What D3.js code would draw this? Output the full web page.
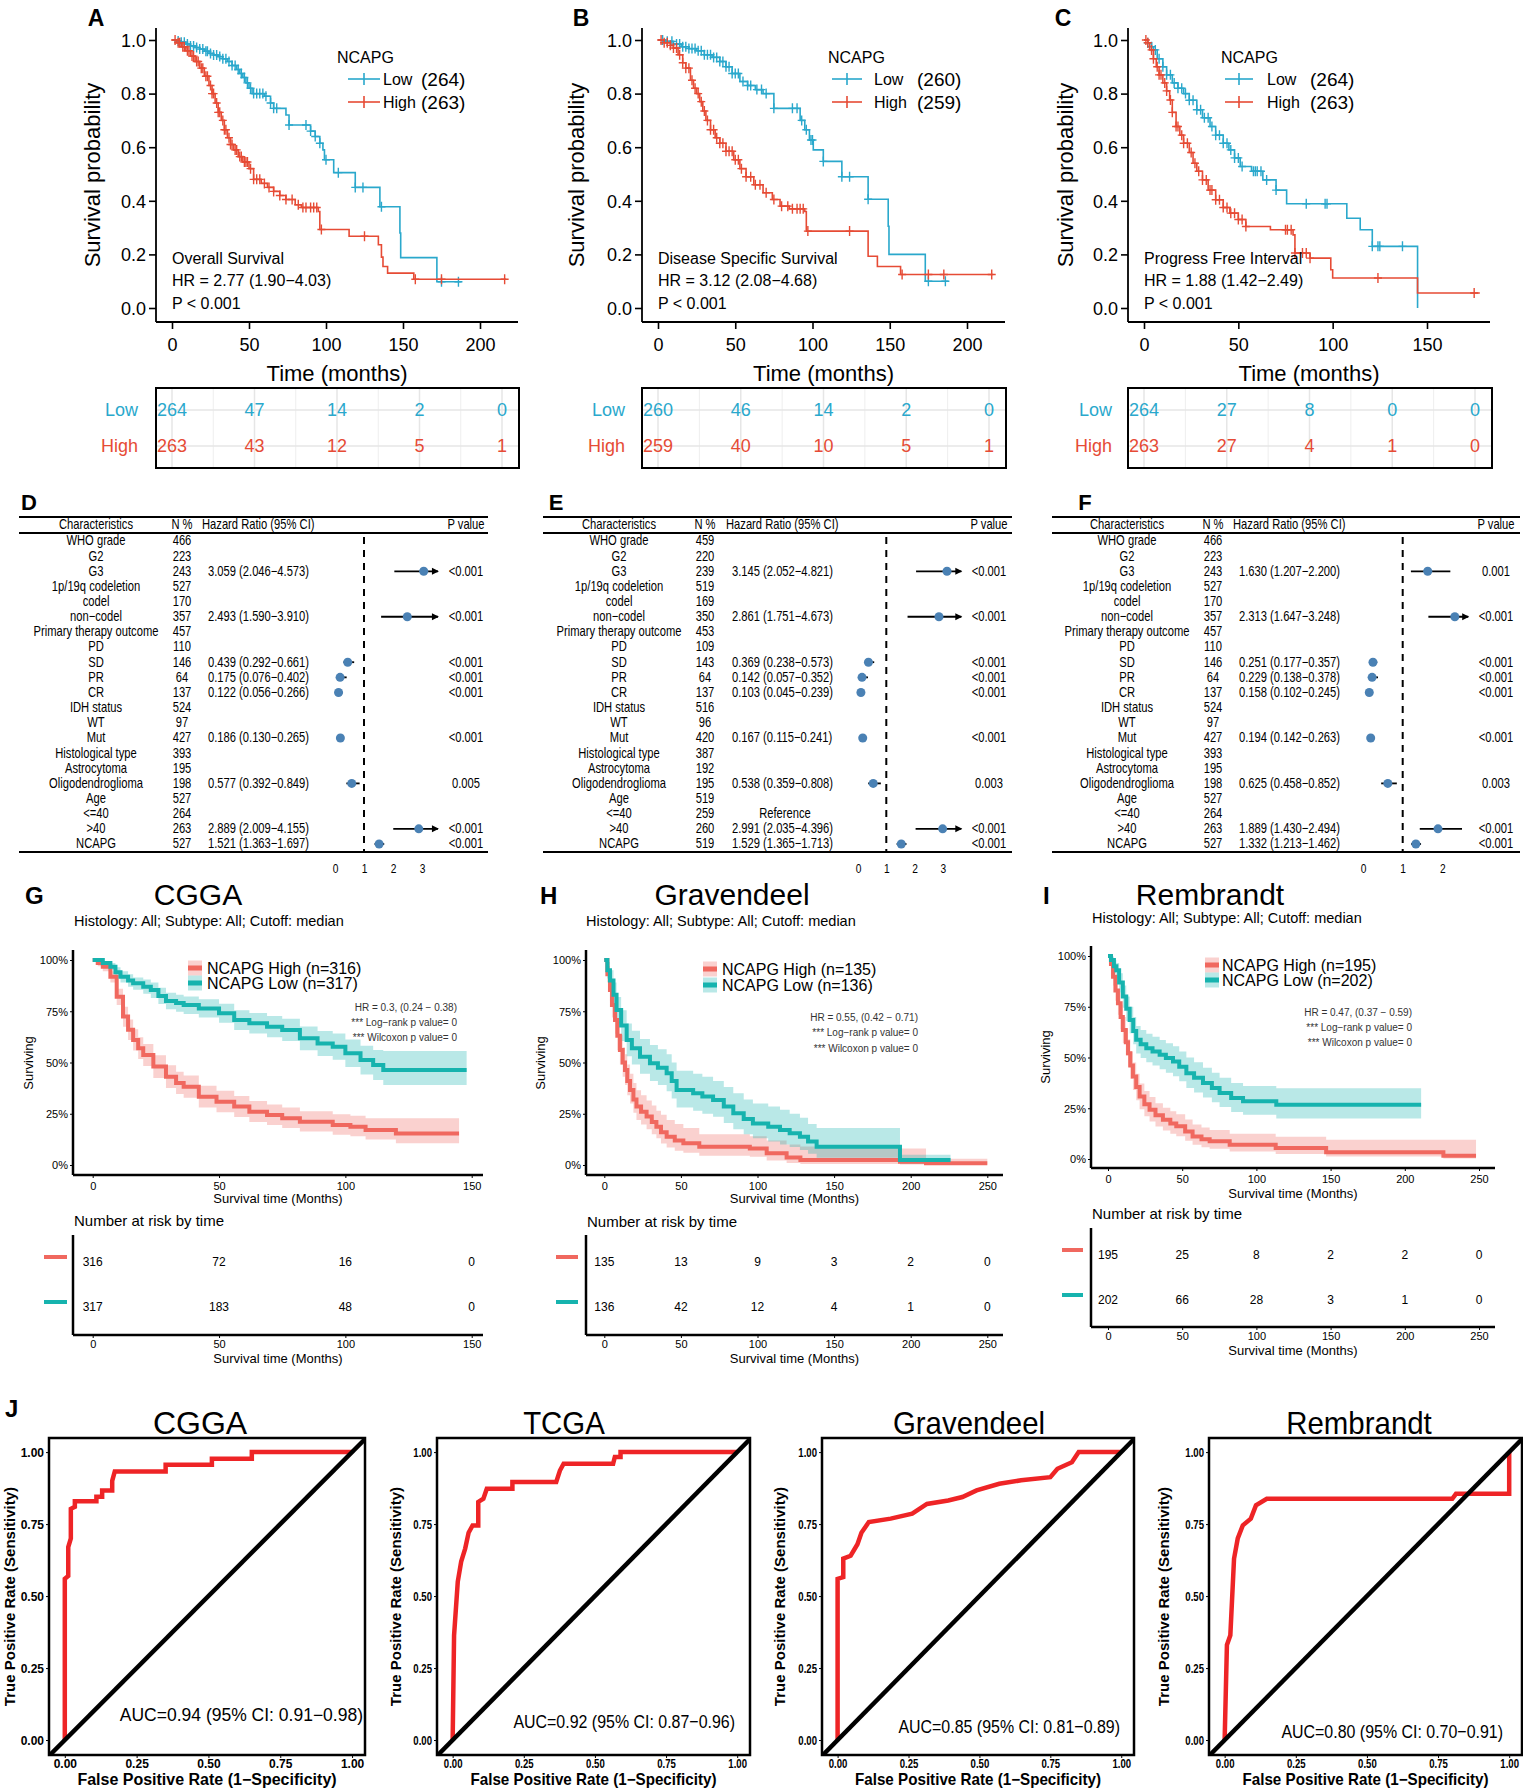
<!DOCTYPE html>
<html lang="en">
<head>
<meta charset="UTF-8">
<title>NCAPG survival</title>
<script src="https://cdn.jsdelivr.net/npm/d3@7"></script>
<style>
  body { margin: 0; background: #fff; overflow: hidden; }
  svg text { font-family: "Liberation Sans", Arial, Helvetica, sans-serif; }
</style>
</head>
<body>
<script>
// ---------- data : TCGA KM (A, B, C) ----------
const osLow = [[0,1],[3,0.996],[6,0.992],[9,0.985],[12,0.978],[15,0.972],[18,0.966],[21,0.958],[24,0.95],[27,0.944],[30,0.938],[33,0.93],[36,0.92],[39,0.905],[42,0.89],[44,0.875],[46,0.86],[48,0.84],[50,0.82],[52,0.8],[60,0.79],[64,0.765],[66,0.745],[74,0.72],[76,0.683],[90,0.66],[93,0.64],[96,0.615],[98,0.59],[99,0.553],[105,0.505],[119,0.45],[135,0.378],[148,0.28],[148.5,0.188],[172,0.098],[188,0.098]];
const osHigh = [[0,1],[3,0.99],[6,0.975],[9,0.96],[12,0.94],[15,0.92],[18,0.895],[21,0.865],[24,0.83],[26,0.8],[28,0.765],[30,0.73],[32,0.7],[34,0.665],[36,0.635],[38,0.61],[40,0.59],[43,0.565],[46,0.545],[50,0.52],[53,0.48],[58,0.465],[62,0.45],[66,0.435],[70,0.42],[74,0.405],[80,0.385],[84,0.375],[95,0.36],[96,0.293],[115,0.268],[134,0.236],[136,0.19],[137,0.155],[140,0.13],[157,0.107],[217,0.107]];
const osLowCens = [4,6,8,10,12,14,16,18,20,22,23,25,27,29,31,33,35,37,39,41,43,45,47,49,51,53,55,57,59,61,64,66,68,76,87,90,93,96,100,108,119,124,136,175,186];
const osHighCens = [2,4,5,7,8,10,11,13,14,16,17,19,20,22,23,25,26,27,29,30,31,33,34,35,37,38,39,41,42,44,45,47,48,49,51,53,55,57,60,63,66,70,74,78,82,85,87,90,92,94,97,125,158,175,216];

const dssLow = [[0,1],[5,0.995],[10,0.985],[15,0.975],[20,0.968],[25,0.96],[30,0.945],[35,0.935],[40,0.92],[44,0.9],[48,0.875],[53,0.845],[58,0.83],[63,0.815],[68,0.8],[75,0.745],[92,0.7],[95,0.665],[98,0.627],[100.5,0.59],[107,0.547],[119,0.49],[136,0.406],[149,0.305],[149.5,0.2],[173,0.1],[188,0.1]];
const dssHigh = [[0,1],[4,0.99],[8,0.98],[10,0.97],[13,0.945],[16,0.915],[18,0.895],[21,0.85],[23,0.82],[25,0.8],[27,0.77],[29,0.735],[31,0.7],[34,0.665],[37,0.635],[40,0.615],[44,0.585],[49,0.553],[53,0.52],[57,0.49],[62,0.46],[68,0.43],[74,0.405],[79,0.38],[85,0.37],[95,0.36],[96,0.287],[136,0.193],[142,0.155],[157,0.125],[217,0.125]];
const dssLowCens = [3,6,9,12,14,16,18,20,22,24,26,28,30,32,34,36,38,40,42,44,46,48,50,52,55,58,60,64,67,70,75,87,90,93,96,99,100,107,119,124,136,175,186];
const dssHighCens = [2,4,6,8,10,12,14,16,18,20,22,24,26,28,30,32,34,36,38,40,42,44,46,48,50,52,54,57,60,63,66,70,75,80,84,87,90,92,94,97,124,158,175,185,216];

const pfiLow = [[0,1],[2,0.99],[4,0.975],[5,0.963],[7,0.93],[10,0.9],[12,0.87],[15,0.84],[18,0.82],[21,0.8],[24,0.775],[28,0.74],[31,0.71],[35,0.677],[38,0.645],[42,0.615],[45,0.59],[48,0.56],[51,0.528],[57,0.51],[63,0.478],[70,0.44],[75.6,0.389],[107.5,0.335],[114.6,0.292],[121,0.23],[145,0]];
const pfiHigh = [[0,1],[2,0.99],[3,0.963],[5,0.93],[6.5,0.9],[8,0.87],[10,0.84],[12,0.81],[13.6,0.776],[15,0.73],[17,0.677],[19,0.645],[21,0.615],[24,0.58],[26,0.54],[28,0.51],[31,0.478],[34,0.44],[38,0.404],[42,0.375],[45.5,0.354],[50,0.33],[54,0.304],[67,0.292],[79,0.273],[80,0.205],[88,0.186],[99,0.143],[100,0.112],[145,0.056],[178,0.056]];
const pfiLowCens = [2,4,6,8,10,12,14,16,18,20,22,24,26,28,30,32,34,36,38,40,42,44,46,48,50,52,58,59,60,62,65,70,86,96,97,121,124,125,137];
const pfiHighCens = [1,2,4,5,7,8,9,11,12,14,15,17,18,20,21,23,25,27,29,31,33,35,36,38,40,42,44,46,48,50,52,54,75,76,78,80,84,86,88,124,175];

const osRiskLow = [264,47,14,2,0], osRiskHigh = [263,43,12,5,1];
const dssRiskLow = [260,46,14,2,0], dssRiskHigh = [259,40,10,5,1];
const pfiRiskLow = [264,27,8,0,0], pfiRiskHigh = [263,27,4,1,0];

// ---------- data : forest plots (D, E, F) ----------
const forestLabels = ["WHO grade","G2","G3","1p/19q codeletion","codel","non\u2212codel","Primary therapy outcome","PD","SD","PR","CR","IDH status","WT","Mut","Histological type","Astrocytoma","Oligodendroglioma","Age","<=40",">40","NCAPG"];
const _ = null;
const osN   = [466,223,243,527,170,357,457,110,146,64,137,524,97,427,393,195,198,527,264,263,527];
const osEst = [_,_,3.059,_,_,2.493,_,_,0.439,0.175,0.122,_,_,0.186,_,_,0.577,_,_,2.889,1.521];
const osLo  = [_,_,2.046,_,_,1.590,_,_,0.292,0.076,0.056,_,_,0.130,_,_,0.392,_,_,2.009,1.363];
const osHi  = [_,_,4.573,_,_,3.910,_,_,0.661,0.402,0.266,_,_,0.265,_,_,0.849,_,_,4.155,1.697];
const osP   = [_,_,"<0.001",_,_,"<0.001",_,_,"<0.001","<0.001","<0.001",_,_,"<0.001",_,_,"0.005",_,_,"<0.001","<0.001"];

const dssN   = [459,220,239,519,169,350,453,109,143,64,137,516,96,420,387,192,195,519,259,260,519];
const dssEst = [_,_,3.145,_,_,2.861,_,_,0.369,0.142,0.103,_,_,0.167,_,_,0.538,_,_,2.991,1.529];
const dssLo  = [_,_,2.052,_,_,1.751,_,_,0.238,0.057,0.045,_,_,0.115,_,_,0.359,_,_,2.035,1.365];
const dssHi  = [_,_,4.821,_,_,4.673,_,_,0.573,0.352,0.239,_,_,0.241,_,_,0.808,_,_,4.396,1.713];
const dssP   = [_,_,"<0.001",_,_,"<0.001",_,_,"<0.001","<0.001","<0.001",_,_,"<0.001",_,_,"0.003",_,_,"<0.001","<0.001"];

const pfiN   = [466,223,243,527,170,357,457,110,146,64,137,524,97,427,393,195,198,527,264,263,527];
const pfiEst = [_,_,1.630,_,_,2.313,_,_,0.251,0.229,0.158,_,_,0.194,_,_,0.625,_,_,1.889,1.332];
const pfiLo  = [_,_,1.207,_,_,1.647,_,_,0.177,0.138,0.102,_,_,0.142,_,_,0.458,_,_,1.430,1.213];
const pfiHi  = [_,_,2.200,_,_,3.248,_,_,0.357,0.378,0.245,_,_,0.263,_,_,0.852,_,_,2.494,1.462];
const pfiP   = [_,_,"0.001",_,_,"<0.001",_,_,"<0.001","<0.001","<0.001",_,_,"<0.001",_,_,"0.003",_,_,"<0.001","<0.001"];

// ---------- data : GlioVis KM (G, H, I) [time, surv, lower, upper] ----------
const cggaHigh = [[0,1,1,1],[2,0.985,0.97,0.995],[4,0.967,0.945,0.985],[7,0.918,0.89,0.945],[9.5,0.821,0.78,0.86],[12,0.724,0.675,0.772],[14,0.66,0.61,0.71],[16,0.61,0.558,0.662],[18,0.57,0.517,0.623],[20,0.537,0.483,0.59],[24,0.48,0.425,0.535],[29,0.431,0.376,0.486],[33,0.4,0.346,0.455],[36,0.382,0.328,0.437],[42,0.333,0.28,0.387],[49,0.309,0.257,0.362],[56,0.285,0.234,0.337],[62,0.26,0.21,0.312],[69,0.244,0.195,0.295],[75,0.228,0.18,0.28],[82,0.211,0.163,0.262],[95,0.195,0.148,0.247],[102,0.187,0.14,0.24],[108,0.171,0.125,0.228],[120,0.154,0.106,0.228],[145,0.154,0.106,0.228]];
const cggaLow = [[0,1,1,1],[4,0.985,0.97,0.995],[7,0.967,0.95,0.985],[9,0.94,0.915,0.965],[11,0.918,0.89,0.945],[14,0.9,0.87,0.93],[16,0.886,0.855,0.915],[20,0.87,0.835,0.905],[23,0.854,0.815,0.89],[26,0.825,0.785,0.865],[29,0.8,0.76,0.84],[33,0.79,0.748,0.83],[36,0.78,0.737,0.822],[42,0.764,0.72,0.808],[50,0.74,0.694,0.786],[56,0.707,0.659,0.755],[62,0.691,0.641,0.741],[69,0.675,0.623,0.727],[75,0.659,0.605,0.713],[82,0.618,0.56,0.676],[89,0.593,0.532,0.654],[95,0.577,0.513,0.641],[100,0.545,0.478,0.612],[106,0.512,0.442,0.582],[111,0.488,0.415,0.561],[115,0.463,0.39,0.556],[148,0.463,0.39,0.556]];
const gravHigh = [[0,1,1,1],[2,0.93,0.89,0.97],[3.7,0.854,0.8,0.91],[5,0.78,0.72,0.84],[7,0.707,0.64,0.775],[8.5,0.63,0.56,0.7],[10.2,0.561,0.49,0.635],[12,0.5,0.43,0.575],[13.5,0.463,0.39,0.54],[15,0.41,0.34,0.49],[16.8,0.366,0.3,0.445],[19,0.32,0.255,0.4],[21,0.285,0.22,0.365],[24,0.26,0.197,0.34],[27.6,0.236,0.175,0.315],[31,0.21,0.15,0.29],[34,0.187,0.13,0.265],[37,0.16,0.105,0.245],[40.7,0.138,0.085,0.22],[46,0.12,0.07,0.2],[51.6,0.106,0.06,0.18],[62,0.089,0.045,0.15],[95,0.081,0.04,0.14],[106,0.057,0.022,0.12],[119,0.037,0.01,0.1],[128,0.024,0.005,0.09],[193,0.016,0.002,0.08],[210,0.008,0.001,0.03],[250,0.008,0.001,0.03]];
const gravLow = [[0,1,1,1],[2,0.95,0.91,0.99],[3.7,0.9,0.85,0.95],[6,0.83,0.77,0.89],[8,0.756,0.69,0.82],[11,0.68,0.605,0.755],[14.6,0.61,0.53,0.69],[18,0.57,0.49,0.655],[23.3,0.528,0.445,0.615],[29.8,0.496,0.41,0.585],[35,0.475,0.39,0.565],[40.7,0.447,0.36,0.54],[44,0.41,0.325,0.5],[47.2,0.366,0.28,0.46],[58,0.35,0.265,0.445],[64,0.334,0.25,0.43],[71,0.317,0.235,0.41],[78,0.285,0.205,0.38],[84.2,0.252,0.175,0.35],[91,0.225,0.15,0.32],[97,0.203,0.13,0.3],[107,0.187,0.115,0.285],[114.7,0.171,0.1,0.27],[121,0.155,0.088,0.25],[127.7,0.138,0.073,0.23],[133,0.115,0.055,0.2],[138.6,0.089,0.035,0.18],[193,0.024,0.005,0.05],[226,0.024,0.005,0.05]];
const rembHigh = [[0,1,1,1],[2,0.96,0.93,0.99],[3.4,0.898,0.855,0.94],[5,0.83,0.78,0.88],[6.7,0.767,0.71,0.82],[8.5,0.7,0.64,0.76],[10,0.636,0.572,0.7],[12,0.575,0.51,0.64],[13.5,0.521,0.455,0.59],[15,0.46,0.395,0.53],[16.8,0.407,0.34,0.475],[19,0.355,0.29,0.42],[21.3,0.308,0.245,0.372],[24.5,0.27,0.21,0.335],[28,0.243,0.185,0.305],[32,0.215,0.16,0.275],[37,0.193,0.14,0.252],[42,0.175,0.124,0.235],[46,0.161,0.112,0.22],[52,0.135,0.09,0.195],[57,0.111,0.07,0.17],[63,0.097,0.058,0.155],[68.5,0.087,0.05,0.143],[82,0.07,0.037,0.125],[113,0.054,0.025,0.11],[147,0.033,0.012,0.095],[226,0.016,0.003,0.095],[248,0.016,0.003,0.095]];
const rembLow = [[0,1,1,1],[2,0.98,0.955,0.998],[4,0.95,0.915,0.98],[5.6,0.93,0.89,0.965],[7.5,0.87,0.82,0.915],[10,0.8,0.745,0.855],[12.3,0.74,0.68,0.8],[14.6,0.685,0.62,0.75],[17,0.63,0.565,0.7],[19,0.587,0.52,0.655],[22,0.565,0.497,0.635],[25.8,0.546,0.477,0.617],[30,0.53,0.46,0.602],[34.8,0.513,0.442,0.586],[39,0.497,0.425,0.57],[43.8,0.48,0.408,0.555],[48,0.455,0.383,0.53],[52.8,0.423,0.35,0.5],[58,0.4,0.328,0.476],[64,0.374,0.303,0.45],[70,0.35,0.28,0.425],[75.2,0.325,0.256,0.4],[83,0.3,0.232,0.374],[91,0.284,0.218,0.36],[113.4,0.267,0.2,0.349],[211,0.267,0.2,0.349]];

const cggaRiskHigh = [316,72,16,0], cggaRiskLow = [317,183,48,0];
const gravRiskHigh = [135,13,9,3,2,0], gravRiskLow = [136,42,12,4,1,0];
const rembRiskHigh = [195,25,8,2,2,0], rembRiskLow = [202,66,28,3,1,0];

// ---------- data : ROC (J) [FPR, TPR] ----------
const rocCGGA = [[0,0],[0,0.56],[0.012,0.57],[0.012,0.67],[0.021,0.7],[0.021,0.803],[0.035,0.81],[0.035,0.829],[0.11,0.829],[0.11,0.845],[0.13,0.845],[0.13,0.867],[0.165,0.867],[0.165,0.9],[0.174,0.933],[0.351,0.933],[0.351,0.956],[0.512,0.956],[0.512,0.977],[0.651,0.977],[0.651,1],[1,1]];
const rocTCGA = [[0,0],[0.005,0.364],[0.018,0.55],[0.03,0.62],[0.044,0.665],[0.056,0.72],[0.07,0.745],[0.09,0.745],[0.09,0.827],[0.108,0.838],[0.12,0.873],[0.21,0.873],[0.21,0.896],[0.364,0.896],[0.377,0.936],[0.39,0.96],[0.564,0.96],[0.57,0.983],[0.59,0.983],[0.59,1],[1,1]];
const rocGrav = [[0,0],[0,0.56],[0.02,0.566],[0.02,0.63],[0.046,0.64],[0.07,0.68],[0.084,0.72],[0.11,0.757],[0.187,0.769],[0.263,0.786],[0.315,0.82],[0.39,0.832],[0.44,0.844],[0.49,0.867],[0.57,0.89],[0.647,0.902],[0.75,0.913],[0.775,0.942],[0.826,0.965],[0.85,1],[1,1]];
const rocRemb = [[0,0],[0.008,0.33],[0.02,0.364],[0.033,0.63],[0.046,0.7],[0.064,0.746],[0.092,0.769],[0.11,0.815],[0.148,0.838],[0.8,0.838],[0.813,0.855],[1,0.855],[1,1]];

// ---------- helpers ----------
const svg = d3.select("body").append("svg").attr("width", 1523).attr("height", 1792);
svg.append("rect").attr("width", 1523).attr("height", 1792).attr("fill", "#fff");

function txt(g, x, y, s, o) {
  o = o || {};
  const t = g.append("text").text(s)
    .attr("font-size", o.size || 12)
    .attr("text-anchor", o.anchor || "start")
    .attr("dominant-baseline", "central");
  if (o.weight) t.attr("font-weight", o.weight);
  if (o.fill) t.style("fill", o.fill);
  let tr = `translate(${x},${y})`;
  if (o.rot) tr += ` rotate(${o.rot})`;
  if (o.sx) tr += ` scale(${o.sx},1)`;
  return t.attr("transform", tr);
}
function seg(g, x1, y1, x2, y2, w, c) {
  return g.append("line").attr("x1", x1).attr("y1", y1).attr("x2", x2).attr("y2", y2)
    .attr("stroke", c || "#000").attr("stroke-width", w || 1);
}
function drawAxis(g, gen, tx, ty, o) {
  const a = g.append("g").attr("transform", `translate(${tx},${ty})`).call(gen);
  a.select(".domain").remove();
  a.attr("font-family", null).attr("font-size", null);
  a.selectAll(".tick line").attr("stroke", "#000").attr("stroke-width", o.sw || 1);
  const t = a.selectAll(".tick text").attr("font-size", o.fs).attr("dy", "0.35em");
  if (o.bold) t.attr("font-weight", "bold");
  const sx = o.sx || 1;
  if (o.side === "b") t.attr("y", o.off);
  else t.attr("x", -o.off / sx);
  if (sx !== 1) t.attr("transform", `scale(${sx},1)`);
  return a;
}
function stepAt(pts, t) {
  let s = pts[0][1];
  for (const p of pts) { if (p[0] <= t) s = p[1]; else break; }
  return s;
}

// ---------- A, B, C ----------
const lowCol = "#2aa8cc", highCol = "#e64b35";
const topPanels = [
  {label: "A", labX: 96, left: 156, right: 518, x0: 172, x1: 480, tmax: 200, ticks: [0,50,100,150,200], ylabX: 92,
   legX: 337, lineX: [348,380], lowX: 383, nX: 421, annX: 172, box: [156,519], rowLabX: 138,
   low: osLow, lowC: osLowCens, high: osHigh, highC: osHighCens, nLow: 264, nHigh: 263,
   name: "Overall Survival", hr: "HR = 2.77 (1.90\u22124.03)", riskLow: osRiskLow, riskHigh: osRiskHigh},
  {label: "B", labX: 581, left: 642, right: 1005, x0: 658, x1: 967, tmax: 200, ticks: [0,50,100,150,200], ylabX: 576,
   legX: 828, lineX: [832,862], lowX: 874, nX: 917, annX: 658, box: [642,1006], rowLabX: 625,
   low: dssLow, lowC: dssLowCens, high: dssHigh, highC: dssHighCens, nLow: 260, nHigh: 259,
   name: "Disease Specific Survival", hr: "HR = 3.12 (2.08\u22124.68)", riskLow: dssRiskLow, riskHigh: dssRiskHigh},
  {label: "C", labX: 1063, left: 1128, right: 1490, x0: 1144, x1: 1427, tmax: 150, ticks: [0,50,100,150], ylabX: 1065,
   legX: 1221, lineX: [1225,1253], lowX: 1267, nX: 1310, annX: 1144, box: [1128,1492], rowLabX: 1112,
   low: pfiLow, lowC: pfiLowCens, high: pfiHigh, highC: pfiHighCens, nLow: 264, nHigh: 263,
   name: "Progress Free Interval", hr: "HR = 1.88 (1.42\u22122.49)", riskLow: pfiRiskLow, riskHigh: pfiRiskHigh}
];

function drawTopKM(p) {
  const g = svg.append("g");
  const x = d3.scaleLinear().domain([0, p.tmax]).range([p.x0, p.x1]);
  const y = d3.scaleLinear().domain([0, 1]).range([308, 40]);
  txt(g, p.labX, 18, p.label, {size: 23, weight: "bold", anchor: "middle"});

  const line = d3.line().x(d => x(d[0])).y(d => y(d[1])).curve(d3.curveStepAfter);
  [[p.low, p.lowC, lowCol], [p.high, p.highC, highCol]].forEach(([pts, cens, col]) => {
    g.append("path").attr("d", line(pts)).attr("fill", "none").attr("stroke", col).attr("stroke-width", 1.6);
    g.append("g").selectAll("path").data(cens).join("path")
      .attr("d", c => { const cx = x(c), cy = y(stepAt(pts, c)); return `M${cx},${cy - 5}V${cy + 5}M${cx - 4},${cy}H${cx + 4}`; })
      .attr("stroke", col).attr("stroke-width", 1.4);
  });

  seg(g, p.left, 28, p.left, 322, 1.8);
  seg(g, p.left, 322, p.right, 322, 1.8);
  drawAxis(g, d3.axisLeft(y).tickValues([0, .2, .4, .6, .8, 1]).tickFormat(d3.format(".1f")).tickSize(7), p.left, 0, {fs: 18, off: 10, side: "l", sw: 1.6});
  drawAxis(g, d3.axisBottom(x).tickValues(p.ticks).tickSize(7), 0, 322, {fs: 18, off: 23, side: "b", sw: 1.6});
  txt(g, (p.left + p.right) / 2, 373, "Time (months)", {size: 22, anchor: "middle"});
  txt(g, p.ylabX, 175, "Survival probability", {size: 22, anchor: "middle", rot: -90});

  // legend
  txt(g, p.legX, 57, "NCAPG", {size: 16});
  [[79, lowCol, "Low", p.nLow], [102, highCol, "High", p.nHigh]].forEach(([ly, col, nm, n]) => {
    seg(g, p.lineX[0], ly, p.lineX[1], ly, 1.6, col);
    const mx = (p.lineX[0] + p.lineX[1]) / 2;
    seg(g, mx, ly - 6, mx, ly + 6, 1.6, col);
    txt(g, p.lowX, ly, nm, {size: 16});
    txt(g, p.nX, ly, `(${n})`, {size: 19});
  });
  txt(g, p.annX, 258, p.name, {size: 16});
  txt(g, p.annX, 280, p.hr, {size: 16});
  txt(g, p.annX, 303, "P < 0.001", {size: 16});

  // risk table
  const cx = d3.scalePoint().domain(d3.range(p.riskLow.length)).range([p.box[0] + 16, p.box[1] - 17]);
  const step = cx.step();
  const tg = g.append("g");
  cx.domain().forEach(i => {
    seg(tg, cx(i), 389, cx(i), 467, 1.5, "#e6e6e6");
    if (i < p.riskLow.length - 1) seg(tg, cx(i) + step / 2, 389, cx(i) + step / 2, 467, 1, "#eeeeee");
  });
  [410, 446].forEach(ry => seg(tg, p.box[0], ry, p.box[1], ry, 1.5, "#e6e6e6"));
  g.append("rect").attr("x", p.box[0]).attr("y", 388).attr("width", p.box[1] - p.box[0]).attr("height", 80)
    .attr("fill", "none").attr("stroke", "#000").attr("stroke-width", 2);
  [[410, lowCol, "Low", p.riskLow], [446, highCol, "High", p.riskHigh]].forEach(([ry, col, nm, vals]) => {
    txt(g, p.rowLabX, ry, nm, {size: 18, anchor: "end", fill: col});
    vals.forEach((v, i) => txt(g, cx(i), ry, v, {size: 18, anchor: "middle", fill: col}));
  });
}
topPanels.forEach(drawTopKM);

// ---------- D, E, F ----------
const forestPanels = [
  {label: "D", labX: 29, l: 19, r: 488, charC: 96, nC: 182, hrL: 208, hrHeadL: 202, pC: 466, x0: 335, unit: 29, clip: 3.55, ticks: [0,1,2,3],
   n: osN, est: osEst, lo: osLo, hi: osHi, p: osP, ref: false},
  {label: "E", labX: 556, l: 543, r: 1012, charC: 619, nC: 705, hrL: 732, hrHeadL: 726, pC: 989, x0: 858, unit: 28.3, clip: 3.65, ticks: [0,1,2,3],
   n: dssN, est: dssEst, lo: dssLo, hi: dssHi, p: dssP, ref: true},
  {label: "F", labX: 1085, l: 1052, r: 1520, charC: 1127, nC: 1213, hrL: 1239, hrHeadL: 1233, pC: 1496, x0: 1363, unit: 39.7, clip: 2.65, ticks: [0,1,2],
   n: pfiN, est: pfiEst, lo: pfiLo, hi: pfiHi, p: pfiP}
];
const f3 = d3.format(".3f");
function drawForest(p) {
  const g = svg.append("g");
  const x = d3.scaleLinear().domain([0, 1]).range([p.x0, p.x0 + p.unit]);
  const ry = d3.scaleLinear().domain([0, forestLabels.length - 1]).range([541, 844]);
  const fs = 14, sx = 0.8;
  txt(g, p.labX, 502, p.label, {size: 22, weight: "bold", anchor: "middle"});
  seg(g, p.l, 517, p.r, 517, 2);
  seg(g, p.l, 533, p.r, 533, 2);
  seg(g, p.l, 852, p.r, 852, 2);
  txt(g, p.charC, 525, "Characteristics", {size: fs, anchor: "middle", sx});
  txt(g, p.nC, 525, "N %", {size: fs, anchor: "middle", sx});
  txt(g, p.hrHeadL, 525, "Hazard Ratio (95% CI)", {size: fs, sx});
  txt(g, p.pC, 525, "P value", {size: fs, anchor: "middle", sx});
  seg(g, x(1), 537, x(1), 852, 2).attr("stroke-dasharray", "7,6");

  forestLabels.forEach((lab, i) => {
    const yy = ry(i);
    txt(g, p.charC, yy, lab, {size: fs, anchor: "middle", sx});
    txt(g, p.nC, yy, p.n[i], {size: fs, anchor: "middle", sx});
    if (p.ref && i === 18) txt(g, p.hrL + 53, yy, "Reference", {size: fs, anchor: "middle", sx});
    if (p.est[i] !== null) {
      txt(g, p.hrL, yy, `${f3(p.est[i])} (${f3(p.lo[i])}\u2212${f3(p.hi[i])})`, {size: fs, sx});
      txt(g, p.pC, yy, p.p[i], {size: fs, anchor: "middle", sx});
      const hiC = Math.min(p.hi[i], p.clip);
      seg(g, x(p.lo[i]), yy, x(hiC), yy, 1.8);
      if (p.hi[i] > p.clip) {
        const xe = x(p.clip);
        g.append("path").attr("d", `M${xe - 6},${yy - 3.5}L${xe + 1},${yy}L${xe - 6},${yy + 3.5}Z`).attr("fill", "#000");
      }
      g.append("circle").attr("cx", x(p.est[i])).attr("cy", yy).attr("r", 4.5).attr("fill", "#4a81b4");
    }
  });
  drawAxis(g, d3.axisBottom(x).tickValues(p.ticks).tickFormat(d3.format("d")).tickSize(0), 0, 852, {fs: 12, off: 17, side: "b", sx: 0.85});
}
forestPanels.forEach(drawForest);

// ---------- G, H, I ----------
const ggRed = "#f0685f", ggCyan = "#16b3ae";
const ggPanels = [
  {label: "G", labX: 25, labY: 895, title: "CGGA", titleX: 198, titleY: 894, subX: 74, subY: 921,
   left: 73, right: 483, top: 950, axisY: 1175, x0: 92.7, x1: 471.7, xmax: 150, ticks: [0,50,100,150], y0: 1165, y1: 960,
   survX: 28, survY: 1063, legSw: 188, legTx: 207, legY: [968,983], hrX: 457, hrY: [1007,1022,1037], xlabY: 1198,
   riskY: 1220, tabTop: 1235, tabBottom: 1335, rowY: [1262,1307], swX: [44,67], tabXlabY: 1358,
   high: cggaHigh, low: cggaLow, nHigh: 316, nLow: 317, hr: "HR = 0.3, (0.24 \u2212 0.38)", riskHigh: cggaRiskHigh, riskLow: cggaRiskLow},
  {label: "H", labX: 540, labY: 895, title: "Gravendeel", titleX: 732, titleY: 894, subX: 586, subY: 921,
   left: 586, right: 1003, top: 950, axisY: 1175, x0: 604.3, x1: 987.3, xmax: 250, ticks: [0,50,100,150,200,250], y0: 1165, y1: 960,
   survX: 540, survY: 1063, legSw: 703, legTx: 722, legY: [969,985], hrX: 918, hrY: [1017,1032,1048], xlabY: 1198,
   riskY: 1221, tabTop: 1235, tabBottom: 1335, rowY: [1262,1307], swX: [556,578], tabXlabY: 1358,
   high: gravHigh, low: gravLow, nHigh: 135, nLow: 136, hr: "HR = 0.55, (0.42 \u2212 0.71)", riskHigh: gravRiskHigh, riskLow: gravRiskLow},
  {label: "I", labX: 1043, labY: 895, title: "Rembrandt", titleX: 1210, titleY: 894, subX: 1092, subY: 918,
   left: 1091, right: 1495, top: 946, axisY: 1168, x0: 1108, x1: 1479, xmax: 250, ticks: [0,50,100,150,200,250], y0: 1159, y1: 956,
   survX: 1045, survY: 1057, legSw: 1205, legTx: 1222, legY: [965,980], hrX: 1412, hrY: [1012,1027,1042], xlabY: 1193,
   riskY: 1213, tabTop: 1228, tabBottom: 1327, rowY: [1255,1300], swX: [1062,1083], tabXlabY: 1350,
   high: rembHigh, low: rembLow, nHigh: 195, nLow: 202, hr: "HR = 0.47, (0.37 \u2212 0.59)", riskHigh: rembRiskHigh, riskLow: rembRiskLow}
];
function drawGG(p) {
  const g = svg.append("g");
  const x = d3.scaleLinear().domain([0, p.xmax]).range([p.x0, p.x1]);
  const y = d3.scaleLinear().domain([0, 1]).range([p.y0, p.y1]);
  txt(g, p.labX, p.labY, p.label, {size: 24, weight: "bold"});
  txt(g, p.titleX, p.titleY, p.title, {size: 30, anchor: "middle"});
  txt(g, p.subX, p.subY, "Histology: All; Subtype: All; Cutoff: median", {size: 14.5});

  const area = d3.area().x(d => x(d[0])).y0(d => y(d[2])).y1(d => y(d[3])).curve(d3.curveStepAfter);
  const line = d3.line().x(d => x(d[0])).y(d => y(d[1])).curve(d3.curveStepAfter);
  const series = [[p.high, ggRed], [p.low, ggCyan]];
  series.forEach(([pts, col]) => g.append("path").attr("d", area(pts)).attr("fill", col).attr("fill-opacity", 0.3));
  series.forEach(([pts, col]) => g.append("path").attr("d", line(pts)).attr("fill", "none").attr("stroke", col).attr("stroke-width", 4));

  seg(g, p.left, p.top, p.left, p.axisY, 2.5);
  seg(g, p.left, p.axisY, p.right, p.axisY, 2.5);
  drawAxis(g, d3.axisLeft(y).tickValues([0, .25, .5, .75, 1]).tickFormat(d3.format(".0%")).tickSize(3), p.left, 0, {fs: 11, off: 5, side: "l"});
  drawAxis(g, d3.axisBottom(x).tickValues(p.ticks).tickSize(3), 0, p.axisY, {fs: 11, off: 11, side: "b"});
  txt(g, (p.left + p.right) / 2, p.xlabY, "Survival time (Months)", {size: 13, anchor: "middle"});
  txt(g, p.survX, p.survY, "Surviving", {size: 13, anchor: "middle", rot: -90});

  // legend
  [[p.legY[0], ggRed, `NCAPG High (n=${p.nHigh})`], [p.legY[1], ggCyan, `NCAPG Low (n=${p.nLow})`]].forEach(([ly, col, s]) => {
    g.append("rect").attr("x", p.legSw).attr("y", ly - 7.5).attr("width", 14).attr("height", 15).attr("fill", col).attr("fill-opacity", 0.3);
    g.append("rect").attr("x", p.legSw).attr("y", ly - 2.5).attr("width", 14).attr("height", 5).attr("fill", col);
    txt(g, p.legTx, ly, s, {size: 16});
  });
  [p.hr, "*** Log\u2212rank p value= 0", "*** Wilcoxon p value= 0"].forEach((s, i) =>
    txt(g, p.hrX, p.hrY[i], s, {size: 10, anchor: "end", fill: "#333"}));

  // number at risk
  txt(g, p.left + 1, p.riskY, "Number at risk by time", {size: 15});
  seg(g, p.left, p.tabTop, p.left, p.tabBottom, 2.5);
  seg(g, p.left, p.tabBottom, p.right, p.tabBottom, 2.5);
  drawAxis(g, d3.axisBottom(x).tickValues(p.ticks).tickSize(3), 0, p.tabBottom, {fs: 11, off: 9, side: "b"});
  txt(g, (p.left + p.right) / 2, p.tabXlabY, "Survival time (Months)", {size: 13, anchor: "middle"});
  [[p.rowY[0], ggRed, p.riskHigh], [p.rowY[1], ggCyan, p.riskLow]].forEach(([ry, col, vals]) => {
    seg(g, p.swX[0], ry - 5, p.swX[1], ry - 5, 4, col);
    vals.forEach((v, i) => txt(g, x(p.ticks[i]), ry, v, {size: 12, anchor: "middle"}));
  });
}
ggPanels.forEach(drawGG);

// ---------- J ----------
const rocPanels = [
  {title: "CGGA", tx: 200, l: 49, r: 365, data: rocCGGA, auc: "AUC=0.94 (95% CI: 0.91\u22120.98)", aucX: 363, aucY: 1715, ylabX: 9, sx: 1, afs: 17.5},
  {title: "TCGA", tx: 564, l: 437, r: 750, data: rocTCGA, auc: "AUC=0.92 (95% CI: 0.87\u22120.96)", aucX: 735, aucY: 1722, ylabX: 395, sx: 0.8, afs: 19},
  {title: "Gravendeel", tx: 969, l: 822, r: 1134, data: rocGrav, auc: "AUC=0.85 (95% CI: 0.81\u22120.89)", aucX: 1120, aucY: 1727, ylabX: 779, sx: 0.8, afs: 19},
  {title: "Rembrandt", tx: 1359, l: 1209, r: 1522, data: rocRemb, auc: "AUC=0.80 (95% CI: 0.70\u22120.91)", aucX: 1503, aucY: 1732, ylabX: 1163, sx: 0.8, afs: 19}
];
txt(svg, 5, 1408, "J", {size: 24, weight: "bold"});
function drawROC(p, k) {
  const g = svg.append("g");
  const top = 1438, bot = 1755;
  const x = d3.scaleLinear().domain([-0.055, 1.045]).range([p.l, p.r]);
  const y = d3.scaleLinear().domain([-0.052, 1.049]).range([bot, top]);
  const cid = "clip" + k;
  g.append("clipPath").attr("id", cid).append("rect").attr("x", p.l).attr("y", top).attr("width", p.r - p.l).attr("height", bot - top);
  const inner = g.append("g").attr("clip-path", `url(#${cid})`);
  inner.append("path").attr("d", d3.line().x(d => x(d[0])).y(d => y(d[1]))(p.data))
    .attr("fill", "none").attr("stroke", "#ee2426").attr("stroke-width", 4.5);
  inner.append("line").attr("x1", x(-0.1)).attr("y1", y(-0.1)).attr("x2", x(1.1)).attr("y2", y(1.1))
    .attr("stroke", "#000").attr("stroke-width", 4.5);
  g.append("rect").attr("x", p.l).attr("y", top).attr("width", p.r - p.l).attr("height", bot - top)
    .attr("fill", "none").attr("stroke", "#000").attr("stroke-width", 2.5);
  const tv = [0, .25, .5, .75, 1], f2 = d3.format(".2f");
  drawAxis(g, d3.axisLeft(y).tickValues(tv).tickFormat(f2).tickSize(3), p.l, 0, {fs: 12, off: 5, side: "l", bold: true, sx: p.sx});
  drawAxis(g, d3.axisBottom(x).tickValues(tv).tickFormat(f2).tickSize(3), 0, bot, {fs: 12, off: 9, side: "b", bold: true, sx: p.sx});
  txt(g, p.tx, 1423, p.title, {size: 32, anchor: "middle", sx: p.sx === 1 ? 1 : 0.92});
  txt(g, (p.l + p.r) / 2, 1779, "False Positive Rate (1\u2212Specificity)", {size: 16, weight: "bold", anchor: "middle", sx: p.sx === 1 ? 1 : 0.95});
  txt(g, p.ylabX, (top + bot) / 2, "True Positive Rate (Sensitivity)", {size: 15, weight: "bold", anchor: "middle", rot: -90});
  txt(g, p.aucX, p.aucY, p.auc, {size: p.afs, anchor: "end", sx: p.sx === 1 ? 1 : 0.84});
}
rocPanels.forEach(drawROC);
</script>
</body>
</html>
